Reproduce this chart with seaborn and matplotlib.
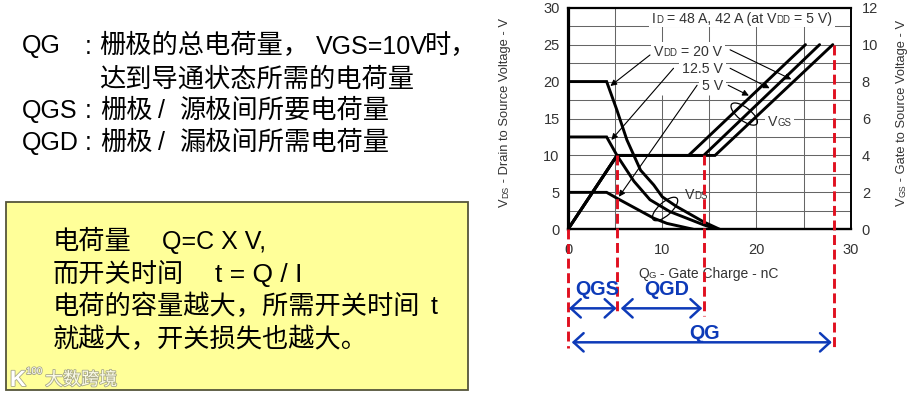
import pandas as pd
import matplotlib.pyplot as plt
import seaborn as sns
import matplotlib.patheffects as pe
from matplotlib.patches import Ellipse, Rectangle
from matplotlib.transforms import Affine2D

# Curve data (gate charge nC, volts on left axis scale)
vgs_5_q = [0, 5.2, 12.8, 25.2]
vgs_5_v = [0, 10, 10, 25]
vgs_125_q = [0, 5.2, 14.4, 26.7]
vgs_125_v = [0, 10, 10, 25]
vgs_20_q = [0, 5.2, 15.6, 28.1]
vgs_20_v = [0, 10, 10, 25]

vds_20_q = [0, 4.1, 5.2, 6.25, 7.7, 9.1, 10, 11.5, 14.4, 16.1]
vds_20_v = [20, 20, 16.1, 12.1, 8, 6, 4.4, 3.1, 1.0, 0]
vds_125_q = [0, 4.1, 5.2, 7, 8.7, 10.8, 14.4, 15.8]
vds_125_v = [12.5, 12.5, 10, 6.5, 4, 2.4, 0.6, 0]
vds_5_q = [0, 4.1, 5.2, 9.1, 10.5, 13.3]
vds_5_v = [5, 5, 4.2, 1.5, 0.8, 0]

q_marks = [0, 5.25, 14.45, 28.2]
q_mark_ends = [-16.1, -11.4, -11.7, -16.1]

x_ticks = [0, 10, 20, 30]
left_ticks = [0, 5, 10, 15, 20, 25, 30]
right_ticks = [0, 2, 4, 6, 8, 10, 12]

W, H = 913, 395
BLUE = '#0d3ab8'
RED = '#e01020'
GREY = '#333333'
CJK = 18.9
LATIN = 18


def build_frame():
    rows = []
    curves = [('vgs5', vgs_5_q, vgs_5_v), ('vgs125', vgs_125_q, vgs_125_v), ('vgs20', vgs_20_q, vgs_20_v),
              ('vds20', vds_20_q, vds_20_v), ('vds125', vds_125_q, vds_125_v), ('vds5', vds_5_q, vds_5_v)]
    for name, qs, vs in curves:
        rows.append(pd.DataFrame({'q': qs, 'v': vs, 'curve': name}))
    return pd.concat(rows, ignore_index=True)


def px_text(x, y, s, size=CJK, **kw):
    """Place figure text on a baseline given in reference pixels"""
    kw.setdefault('va', 'baseline')
    kw.setdefault('color', 'black')
    return fig.text(x / W, 1 - y / H, s, fontsize=size, **kw)


def label(x, y, parts, size, rotation=0, white=False):
    """Text with small-letter runs on the same baseline. parts: (text, is_small)"""
    renderer = fig.canvas.get_renderer()
    start_x, start_y = x, y
    for s, small in parts:
        fs = size * 0.68 if small else size
        t = ax.text(x / W, 1 - y / H, s, fontsize=fs, color=GREY, transform=fig.transFigure,
                    rotation=rotation, rotation_mode='anchor', ha='left', va='baseline', zorder=5)
        t.set_rotation(0)
        width = t.get_window_extent(renderer).width
        t.set_rotation(rotation)
        if rotation == 90:
            y -= width
        else:
            x += width
    if white:
        ax.add_patch(Rectangle(((start_x - 3) / W, 1 - (start_y + 4) / H), (x - start_x + 6) / W, 18 / H,
                               transform=fig.transFigure, facecolor='white', edgecolor='none', zorder=2))


sns.set_theme(style='white')
plt.rcParams['font.family'] = ['Liberation Sans', 'Noto Sans CJK SC']

fig = plt.figure(figsize=(W / 100, H / 100), dpi=100, facecolor='white')
ax = fig.add_axes([568 / W, 1 - 229.3 / H, 282.7 / W, 221.6 / H])

# Left column text
px_text(22, 53.5, 'QG', LATIN)
px_text(85, 53.5, ':', LATIN)
px_text(99, 53.5, '栅极的总电荷量，')
px_text(316, 53.5, 'VGS=10V', LATIN)
px_text(425, 53.5, '时，')
px_text(99, 87, '达到导通状态所需的电荷量')
px_text(22, 118, 'QGS', LATIN)
px_text(85, 118, ':', LATIN)
px_text(100, 118, '栅极')
px_text(158, 118, '/', LATIN)
px_text(180, 118, '源极间所要电荷量')
px_text(22, 150, 'QGD', LATIN)
px_text(85, 150, ':', LATIN)
px_text(100, 150, '栅极')
px_text(158, 150, '/', LATIN)
px_text(180, 150, '漏极间所需电荷量')

# Yellow note box
fig.add_artist(Rectangle((6 / W, 1 - 390 / H), 462 / W, 188 / H, transform=fig.transFigure,
                         facecolor='#ffff99', edgecolor='#55553a', linewidth=1.3))
px_text(53, 249, '电荷量')
px_text(162, 249, 'Q=C X V,', LATIN)
px_text(53, 282, '而开关时间')
px_text(215, 282, 't = Q / I', 19)
px_text(53, 314, '电荷的容量越大，所需开关时间')
px_text(431, 314, 't', LATIN)
px_text(53, 347, '就越大，开关损失也越大。')

# Watermark in the box corner
halo = [pe.withStroke(linewidth=1.2, foreground='#a8a888')]
px_text(10, 386, 'K', 16, color='white', fontweight='bold', path_effects=halo)
px_text(26, 374, '100', 7, color='white', path_effects=halo)
px_text(45, 385, '大数跨境', 13, color='#fbfbe8', path_effects=halo)

# Main curves
df = build_frame()
palette = {name: 'black' for name in df['curve'].unique()}
sns.lineplot(data=df, x='q', y='v', hue='curve', palette=palette, estimator=None, sort=False,
             linewidth=2.1, legend=False, ax=ax, zorder=4, solid_joinstyle='miter')

ax.set_xlim(0, 30)
ax.set_ylim(0, 30)
ax.set_xticks(x_ticks)
ax.set_yticks(left_ticks)
ax.set_xlabel('')
ax.set_ylabel('')
ax.tick_params(axis='both', length=0, labelsize=10.5, labelcolor=GREY, pad=6)
ax.tick_params(axis='x', pad=10)

# Grid, the 10 and 15 nC lines stop behind the label block
for v in [2.5 * i for i in range(1, 12)]:
    ax.axhline(v, color='#666666', lw=0.75, zorder=1)
for q in [5, 20, 25]:
    ax.axvline(q, color='#666666', lw=0.75, zorder=1)
for q in [10, 15]:
    ax.vlines([q, q], [0, 25], [18.2, 30], color='#666666', lw=0.75, zorder=1)

for side, lw in [('left', 2.3), ('top', 1.6), ('bottom', 1.7), ('right', 1.4)]:
    ax.spines[side].set_visible(True)
    ax.spines[side].set_color('black')
    ax.spines[side].set_linewidth(lw)

ax2 = ax.twinx()
ax2.set_ylim(0, 12)
ax2.set_yticks(right_ticks)
ax2.tick_params(axis='y', length=0, labelsize=10.5, labelcolor=GREY, pad=8)
ax2.grid(False)
for s in ax2.spines.values():
    s.set_visible(False)

fig.canvas.draw()

# Axis titles
label(508, 207, [('V', False), ('DS', True), (' - Drain to Source Voltage - V', False)], 9.3, rotation=90)
label(905, 206, [('V', False), ('GS', True), (' - Gate to Source Voltage - V', False)], 9.3, rotation=90)
label(638, 278, [('Q', False), ('G', True), (' - Gate Charge - nC', False)], 10)

# Labels inside the plot
label(652, 23, [('I', False), ('D', True), (' = 48 A, 42 A (at V', False), ('DD', True), (' = 5 V)', False)], 10.2, white=True)
label(654, 56, [('V', False), ('DD', True), (' = 20 V', False)], 10.2, white=True)
label(682, 73, [('12.5 V', False)], 10.2, white=True)
label(702, 90, [('5 V', False)], 10.2, white=True)
label(768, 126, [('V', False), ('GS', True)], 10.2, white=True)
label(685, 199, [('V', False), ('DS', True)], 10.2)

# Thin arrows from the labels to the curves
arrows = [((8.7, 23.6), (4.5, 19.4)), ((11.2, 21.8), (4.6, 12.1)), ((13.7, 19.5), (5.4, 4.4)),
          ((17.2, 24.3), (23.7, 20.3)), ((17.2, 21.8), (21.4, 19.1)), ((17.0, 19.5), (19.2, 18.1))]
for start, end in arrows:
    ax.annotate('', xy=end, xytext=start, zorder=6,
                arrowprops=dict(arrowstyle='-|>', color='black', lw=0.8, mutation_scale=9, shrinkA=0, shrinkB=0))

# Ellipses across the curve groups, sized in pixels so the tilt stays true
for centre, angle in [((18.7, 15.6), -38), ((10.3, 2.75), 42)]:
    cx, cy = ax.transData.transform(centre)
    ax.add_patch(Ellipse((0, 0), 32, 13, angle=angle, fill=False, edgecolor='black', lw=0.9, zorder=5,
                         transform=Affine2D().translate(cx, cy)))

# Red dashed markers, running below the axes
for q, end in zip(q_marks, q_mark_ends):
    top = 25 if q == q_marks[-1] else (0 if q == 0 else 10)
    ax.plot([q, q], [top, end], color=RED, lw=2.1, ls=(0, (3.4, 1.6)), clip_on=False, zorder=7)

# Blue spans
spans = [(q_marks[0] + 0.1, q_marks[1] - 0.1, -10.7), (q_marks[1] + 0.35, q_marks[2] - 0.2, -10.7),
         (q_marks[0] + 0.4, q_marks[3] - 0.2, -15.3)]
for start, end, level in spans:
    ax.annotate('', xy=(end, level), xytext=(start, level), annotation_clip=False, zorder=8,
                arrowprops=dict(arrowstyle='<->,head_length=0.6,head_width=0.55', color=BLUE, lw=1.8,
                                mutation_scale=12, shrinkA=0, shrinkB=0))
px_text(597, 295, 'QGS', 14.2, color=BLUE, fontweight='bold', ha='center')
px_text(667, 295, 'QGD', 14.2, color=BLUE, fontweight='bold', ha='center')
px_text(705, 339, 'QG', 14.2, color=BLUE, fontweight='bold', ha='center')

plt.savefig('out.png', dpi=100)
plt.close()
